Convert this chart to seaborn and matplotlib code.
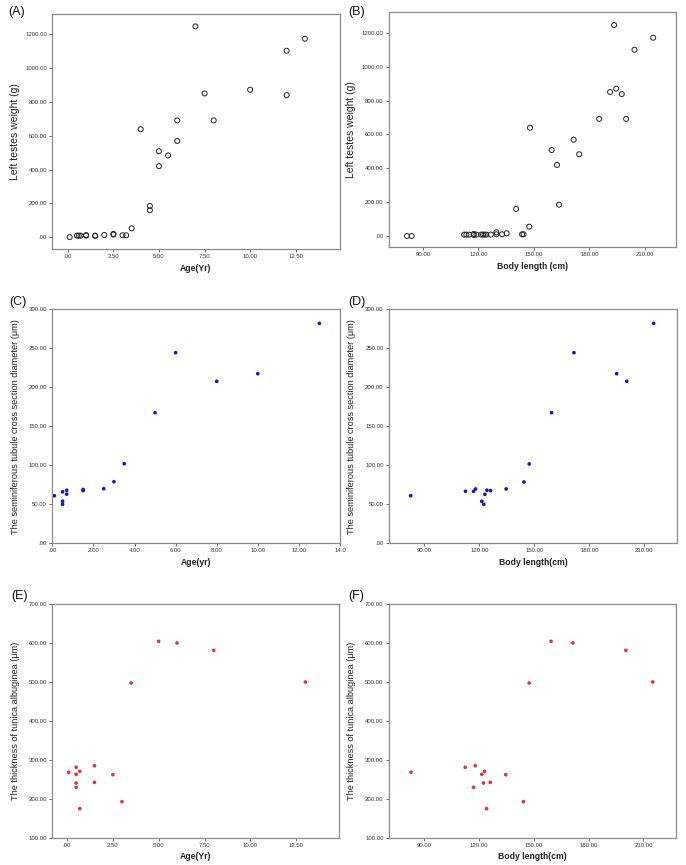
import matplotlib
matplotlib.use("Agg")
import matplotlib.pyplot as plt
import seaborn as sns
import pandas as pd
from matplotlib.ticker import FixedLocator, FuncFormatter

sns.set_style("white")
plt.rcParams['font.family'] = ['Liberation Sans', 'DejaVu Sans']

# ---- Data ----
a_age = [0.1, 0.5, 0.6, 0.7, 1.0, 1.0, 1.5, 1.5, 2.0, 2.5, 2.5, 3.0, 3.2, 3.5, 4.0,
         4.5, 4.5, 5.0, 5.0, 5.5, 6.0, 6.0, 7.0, 7.5, 8.0, 10.0, 12.0, 12.0, 13.0]
a_weight = [1, 10, 10, 10, 10, 13, 8, 10, 14, 20, 16, 12, 12, 53, 638,
            185, 160, 508, 420, 483, 690, 569, 1245, 849, 690, 871, 1101, 839, 1172]

b_length = [81.4, 83.9, 112.3, 113.5, 115.0, 117.5, 117.5, 118.9, 121.5, 122.5, 123.4,
            124.3, 126.7, 129.7, 129.7, 132.8, 135.3, 143.6, 144.4, 140.4, 147.5, 147.9,
            159.6, 162.5, 163.6, 171.5, 174.5, 185.3, 191.2, 193.4, 194.5, 197.5, 199.9,
            204.4, 214.5]
b_weight = [0, 0, 8, 8, 8, 12, 6, 8, 8, 8, 8, 8, 8, 22, 10, 10, 16, 10, 10, 160, 55, 640,
            508, 420, 185, 569, 483, 692, 851, 1247, 871, 839, 692, 1101, 1172]

c_age = [0.1, 0.5, 0.5, 0.5, 0.7, 0.7, 1.5, 1.5, 2.5, 3.0, 3.5, 5.0, 6.0, 8.0, 10.0, 13.0]
c_diam = [61, 66, 54, 50, 68, 63, 69, 67.5, 70, 79, 102, 167.5, 244.4, 207.7, 217.5, 282]

d_length = [82.5, 112.4, 116.8, 117.9, 121.3, 122.4, 123.0, 124.1, 126.1, 134.6, 144.3,
            147.2, 159.4, 171.6, 194.9, 200.4, 215.1]
d_diam = [61, 66.7, 66.7, 69.7, 53.8, 50, 62.8, 68, 67.5, 69.7, 78.6,
          101.7, 167.5, 244.4, 217.5, 207.7, 282]

e_age = [0.1, 0.5, 0.5, 0.5, 0.5, 0.7, 0.7, 1.5, 1.5, 2.5, 3.0, 3.5, 5.0, 6.0, 8.0, 13.0]
e_thick = [268, 281, 263, 240.6, 229.4, 270.6, 174.6, 285, 242.3, 262, 192.6,
           497.7, 604.9, 600.6, 581.7, 500.3]

f_length = [82.7, 112.4, 117.0, 117.9, 121.5, 122.4, 123.0, 124.1, 126.1, 134.6, 144.3,
            147.4, 159.4, 171.4, 200.4, 215.1]
f_thick = [268, 281, 229.4, 285, 263, 240.6, 270.6, 174.6, 242.3, 262, 192.6,
           497.7, 604.9, 600.6, 581.7, 500.3]

age_ticks = [0, 2.5, 5.0, 7.5, 10.0, 12.5]
age_ticks_c = [0, 2, 4, 6, 8, 10, 12, 14]
len_ticks = [90, 120, 150, 180, 210]
weight_ticks = [0, 200, 400, 600, 800, 1000, 1200]
diam_ticks = [0, 50, 100, 150, 200, 250, 300]
thick_ticks = [100, 200, 300, 400, 500, 600, 700]


def spss(v, pos=None):
    s = f"{v:.2f}"
    if s.startswith("0."):
        s = s[1:]
    return s


def spss_c(v, pos=None):
    if abs(v - 14) < 1e-9:
        return "14.0"
    return spss(v)


fig = plt.figure(figsize=(6.86, 8.65), dpi=100)
W, H = 686.0, 865.0


def make_ax(l, t, r, b):
    return fig.add_axes([l / W, 1 - b / H, (r - l) / W, (b - t) / H])


panels = [
    dict(box=(52.3, 14, 339.5, 249), x=a_age, y=a_weight, kind="open",
         xlim=(-0.85, 14.9), ylim=(-69, 1318), xt=age_ticks, yt=weight_ticks,
         xl="Age(Yr)", yl="Left testes weight (g)", lab="(A)", lab_xy=(8, 6), ylfs=7.5, fmtx=spss),
    dict(box=(388.7, 12, 676.3, 247.3), x=b_length, y=b_weight, kind="open",
         xlim=(71.5, 227), ylim=(-67, 1324), xt=len_ticks, yt=weight_ticks,
         xl="Body length (cm)", yl="Left testes weight (g)", lab="(B)", lab_xy=(348, 6), ylfs=7.5, fmtx=spss),
    dict(box=(52.3, 309.3, 340, 543.3), x=c_age, y=c_diam, kind="blue",
         xlim=(0, 14), ylim=(0, 300), xt=age_ticks_c, yt=diam_ticks,
         xl="Age(yr)", yl="The seminiferous tubule cross section diameter (μm)", lab="(C)",
         lab_xy=(9, 296), ylfs=6.6, fmtx=spss_c),
    dict(box=(388.7, 309.3, 677.3, 543.3), x=d_length, y=d_diam, kind="blue",
         xlim=(70.5, 228), ylim=(0, 300), xt=len_ticks, yt=diam_ticks,
         xl="Body length(cm)", yl="The seminiferous tubule cross section diameter (μm)", lab="(D)",
         lab_xy=(348, 296), ylfs=6.6, fmtx=spss),
    dict(box=(52.3, 604.3, 339.3, 837.7), x=e_age, y=e_thick, kind="red",
         xlim=(-0.8, 14.85), ylim=(100, 700), xt=age_ticks, yt=thick_ticks,
         xl="Age(Yr)", yl="The thickness of tunica albuginea (μm)", lab="(E)",
         lab_xy=(11, 590), ylfs=6.6, fmtx=spss),
    dict(box=(388.7, 604.3, 676.3, 837.7), x=f_length, y=f_thick, kind="red",
         xlim=(70.5, 228), ylim=(100, 700), xt=len_ticks, yt=thick_ticks,
         xl="Body length(cm)", yl="The thickness of tunica albuginea (μm)", lab="(F)",
         lab_xy=(348, 590), ylfs=6.6, fmtx=spss),
]

for p in panels:
    ax = make_ax(*p["box"])
    df = pd.DataFrame({"x": p["x"], "y": p["y"]})
    if p["kind"] == "open":
        sns.scatterplot(data=df, x="x", y="y", ax=ax, marker="o", s=13,
                        facecolor="none", edgecolor="#222222", linewidth=0.7)
    elif p["kind"] == "blue":
        sns.scatterplot(data=df, x="x", y="y", ax=ax, marker="o", s=7,
                        color="#1414c8", edgecolor="none", linewidth=0)
    else:
        sns.scatterplot(data=df, x="x", y="y", ax=ax, marker="o", s=7,
                        color="#dc3440", edgecolor="none", linewidth=0)
    ax.set_xlim(*p["xlim"])
    ax.set_ylim(*p["ylim"])
    ax.xaxis.set_major_locator(FixedLocator(p["xt"]))
    ax.yaxis.set_major_locator(FixedLocator(p["yt"]))
    ax.xaxis.set_major_formatter(FuncFormatter(p["fmtx"]))
    ax.yaxis.set_major_formatter(FuncFormatter(spss))
    ax.tick_params(axis="both", which="major", direction="out", length=2.2, width=0.6,
                   color="#555555", labelsize=4.3, labelcolor="#333333", pad=1.5,
                   bottom=True, left=True)
    for sp in ax.spines.values():
        sp.set_color("#8a8a8a")
        sp.set_linewidth(0.9)
    ax.set_xlabel(p["xl"], fontsize=6.2, fontweight="bold", color="#222222")
    ax.set_ylabel(p["yl"], fontsize=p["ylfs"], color="#222222")
    ax.xaxis.set_label_coords(0.5, -0.062)
    ax.yaxis.set_label_coords(-0.114, 0.5)
    ax.xaxis.label.set_va("top")
    ax.grid(False)
    lx, ly = p["lab_xy"]
    fig.text(lx / W, 1 - ly / H, p["lab"], fontsize=9, va="top", ha="left", color="#111111")

fig.savefig("out.png", dpi=100)
